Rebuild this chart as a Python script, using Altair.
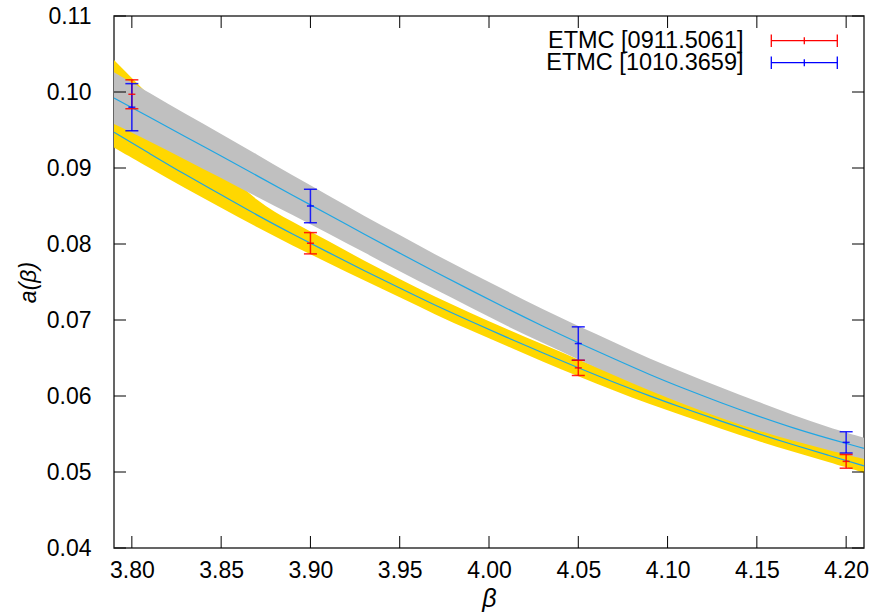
import altair as alt
import pandas as pd

# ---- data ----
beta_grid = [3.79, 3.81, 3.83, 3.85, 3.87, 3.89, 3.91, 3.93, 3.95, 3.97, 3.99,
             4.01, 4.03, 4.05, 4.07, 4.09, 4.11, 4.13, 4.15, 4.17, 4.19, 4.21]

# fit to ETMC [0911.5061] (yellow band, cyan centre line)
fitA_center = [0.0947, 0.0919, 0.0891, 0.0865, 0.0838, 0.0813, 0.0789, 0.0765, 0.0742, 0.0719, 0.0698,
               0.0677, 0.0657, 0.0637, 0.0618, 0.0600, 0.0583, 0.0567, 0.0551, 0.0536, 0.0522, 0.0508]
fitA_upper = [0.1042, 0.0995, 0.0949, 0.0902, 0.0855, 0.0829, 0.0804, 0.0778, 0.0754, 0.0730, 0.0709,
              0.0688, 0.0668, 0.0648, 0.0629, 0.0611, 0.0594, 0.0578, 0.0562, 0.0547, 0.0534, 0.0520]
fitA_lower = [0.0927, 0.0900, 0.0873, 0.0848, 0.0822, 0.0798, 0.0775, 0.0752, 0.0730, 0.0707, 0.0686,
              0.0666, 0.0645, 0.0626, 0.0607, 0.0589, 0.0573, 0.0557, 0.0541, 0.0527, 0.0513, 0.0499]

# fit to ETMC [1010.3659] (grey band, cyan centre line)
fitB_center = [0.0992, 0.0967, 0.0941, 0.0916, 0.0890, 0.0864, 0.0839, 0.0813, 0.0788, 0.0763, 0.0739,
               0.0715, 0.0692, 0.0670, 0.0649, 0.0628, 0.0609, 0.0591, 0.0574, 0.0558, 0.0544, 0.0531]
fitB_upper = [0.1026, 0.0999, 0.0971, 0.0945, 0.0918, 0.0890, 0.0864, 0.0837, 0.0812, 0.0786, 0.0762,
              0.0738, 0.0714, 0.0692, 0.0671, 0.0649, 0.0630, 0.0611, 0.0593, 0.0575, 0.0559, 0.0545]
fitB_lower = [0.0958, 0.0935, 0.0911, 0.0887, 0.0862, 0.0838, 0.0814, 0.0789, 0.0764, 0.0740, 0.0716,
              0.0692, 0.0670, 0.0648, 0.0627, 0.0607, 0.0588, 0.0571, 0.0555, 0.0541, 0.0529, 0.0517]

pts_beta = [3.80, 3.90, 4.05, 4.20]
etmc09_a = [0.0997, 0.0801, 0.0637, 0.0514]
etmc09_err = [0.0019, 0.0014, 0.0010, 0.0009]
etmc10_a = [0.0980, 0.0850, 0.0669, 0.0539]
etmc10_err = [0.0031, 0.0022, 0.0022, 0.0014]

series_names = ["ETMC [0911.5061]", "ETMC [1010.3659]"]
series_colors = ["#ff0000", "#0000ff"]

x_ticks = [3.80, 3.85, 3.90, 3.95, 4.00, 4.05, 4.10, 4.15, 4.20]
y_ticks = [0.04, 0.05, 0.06, 0.07, 0.08, 0.09, 0.10, 0.11]

# ---- tables ----
band = pd.DataFrame({"beta": beta_grid,
                     "a_c": fitA_center, "a_hi": fitA_upper, "a_lo": fitA_lower,
                     "b_c": fitB_center, "b_hi": fitB_upper, "b_lo": fitB_lower})

rows = []
for name, vals, errs in [(series_names[0], etmc09_a, etmc09_err),
                         (series_names[1], etmc10_a, etmc10_err)]:
    for b, v, e in zip(pts_beta, vals, errs):
        rows.append({"series": name, "beta": b, "a": v, "lo": v - e, "hi": v + e})
pts = pd.DataFrame(rows)

xt = pd.DataFrame({"t": x_ticks})
yt = pd.DataFrame({"t": y_ticks})

W, H = 750, 532
FONT = "Liberation Sans"
CYAN = "#1fa6e4"
INTERP = "basis"

xscale = alt.Scale(domain=[3.79, 4.21], nice=False, zero=False)
yscale = alt.Scale(domain=[0.04, 0.11], nice=False, zero=False)
color = alt.Color("series:N", scale=alt.Scale(domain=series_names, range=series_colors), legend=None)

xaxis = alt.Axis(values=x_ticks, format=".2f", title="β", ticks=False, tickSize=0, domain=False,
                 grid=False, labelPadding=11, titlePadding=4, labelFlush=False, titleFontSize=25)
yaxis = alt.Axis(values=y_ticks, format=".2f", title="a(β)", ticks=False, tickSize=0, domain=False,
                 grid=False, labelPadding=23, titlePadding=6)

yellow = alt.Chart(band).mark_area(color="#ffd700", interpolate=INTERP).encode(
    x=alt.X("beta:Q", scale=xscale, axis=xaxis),
    y=alt.Y("a_lo:Q", scale=yscale, axis=yaxis),
    y2="a_hi:Q")
grey = alt.Chart(band).mark_area(color="#c0c0c0", interpolate=INTERP).encode(
    x="beta:Q", y="b_lo:Q", y2="b_hi:Q")
lineA = alt.Chart(band).mark_line(color=CYAN, strokeWidth=1.2, interpolate=INTERP).encode(
    x="beta:Q", y="a_c:Q")
lineB = alt.Chart(band).mark_line(color=CYAN, strokeWidth=1.2, interpolate=INTERP).encode(
    x="beta:Q", y="b_c:Q")

bars = alt.Chart(pts).mark_rule(strokeWidth=1.5, opacity=0.85).encode(
    x="beta:Q", y="lo:Q", y2="hi:Q", color=color)
cap_lo = alt.Chart(pts).mark_point(shape="M-1,0H1", filled=False, size=169, strokeWidth=1.5,
                                   opacity=0.85).encode(x="beta:Q", y="lo:Q", color=color)
cap_hi = alt.Chart(pts).mark_point(shape="M-1,0H1", filled=False, size=169, strokeWidth=1.5,
                                   opacity=0.85).encode(x="beta:Q", y="hi:Q", color=color)
centre = alt.Chart(pts).mark_point(shape="M-1,0H1", filled=False, size=49, strokeWidth=1.5,
                                   opacity=0.85).encode(x="beta:Q", y="a:Q", color=color)

tk = dict(color="black", strokeWidth=1)
tick_b = alt.Chart(xt).mark_rule(**tk).encode(x="t:Q", y=alt.value(H), y2=alt.value(H - 12))
tick_t = alt.Chart(xt).mark_rule(**tk).encode(x="t:Q", y=alt.value(0), y2=alt.value(12))
tick_l = alt.Chart(yt).mark_rule(**tk).encode(y="t:Q", x=alt.value(0), x2=alt.value(12))
tick_r = alt.Chart(yt).mark_rule(**tk).encode(y="t:Q", x=alt.value(W), x2=alt.value(W - 12))

# ---- legend (top right, inside the frame) ----
legend_layers = []
for i, (name, col) in enumerate(zip(series_names, series_colors)):
    ly = 24.7 + 22 * i
    one = pd.DataFrame({"label": [name]})
    legend_layers.append(alt.Chart(one).mark_text(align="right", baseline="alphabetic", fontSize=23.5,
                                                  font=FONT, color="black").encode(
        text="label:N", x=alt.value(629.5), y=alt.value(ly + 7.6)))
    base = alt.Chart(one)
    legend_layers.append(base.mark_rule(color=col, strokeWidth=1.3).encode(
        x=alt.value(657.3), x2=alt.value(723.3), y=alt.value(ly)))
    for xx, hh in [(657.3, 6.3), (723.3, 6.3), (690.3, 3.5)]:
        legend_layers.append(base.mark_rule(color=col, strokeWidth=1.3).encode(
            x=alt.value(xx), y=alt.value(ly - hh), y2=alt.value(ly + hh)))

chart = alt.layer(yellow, grey, lineA, lineB, bars, cap_lo, cap_hi, centre,
                  tick_b, tick_t, tick_l, tick_r, *legend_layers).properties(
    width=W, height=H,
    padding={"left": 114, "top": 16, "right": 6, "bottom": 67},
    autosize=alt.AutoSizeParams(type="none"),
    background="white",
).configure_view(stroke="#333333", strokeWidth=1.5).configure_axis(
    labelFont=FONT, labelFontSize=23, labelColor="black",
    titleFont=FONT, titleFontSize=23, titleFontStyle="italic", titleFontWeight="normal",
    titleColor="black")

chart.save("out.html", embed_options={"renderer": "svg", "actions": False})
